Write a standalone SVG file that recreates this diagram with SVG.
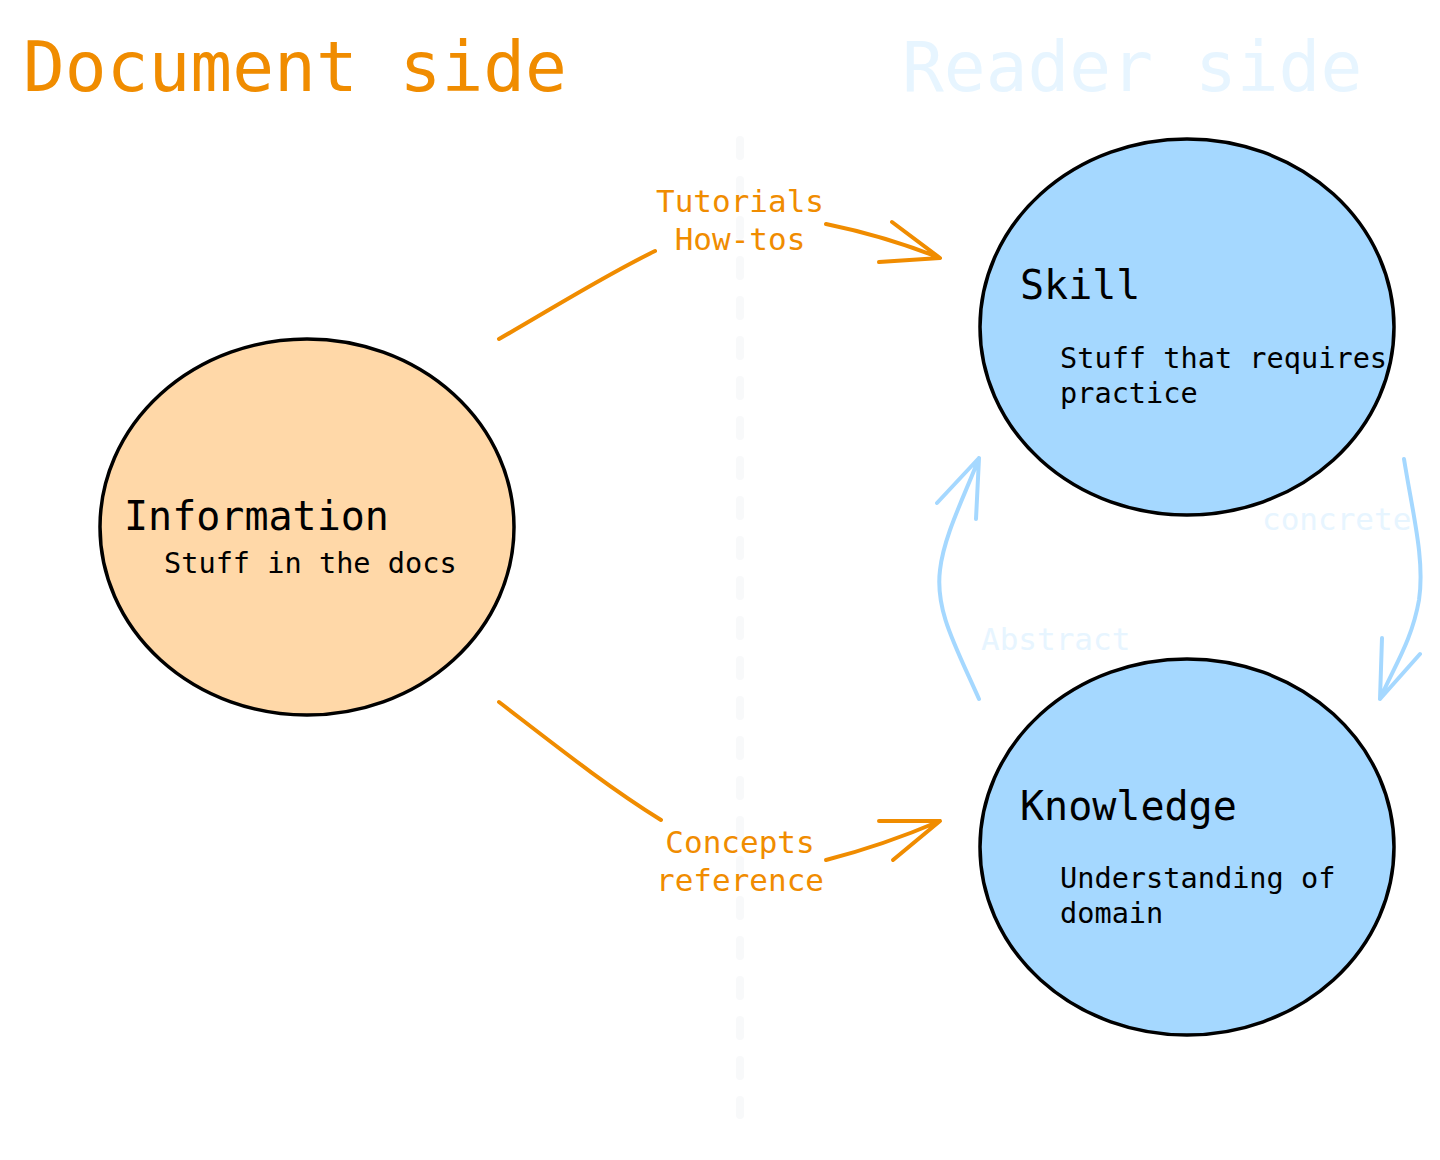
<svg xmlns="http://www.w3.org/2000/svg" width="1440" height="1160" viewBox="0 0 1440 1160">
<style>
text{font-family:"DejaVu Sans Mono","Liberation Mono",monospace}
.title{font-size:69.5px}
.head{font-size:40px;fill:#000}
.body{font-size:28.6px;fill:#000}
.lbl{font-size:31px}
.node{stroke:#000;stroke-width:3.5}
.orange{fill:none;stroke:#f08c00;stroke-width:4;stroke-linecap:round;stroke-linejoin:round}
.blue{fill:none;stroke:#a5d8ff;stroke-width:4;stroke-linecap:round;stroke-linejoin:round}
</style>
<rect width="1440" height="1160" fill="#fff"/>
<text class="title" x="23" y="91" fill="#f08c00">Document side</text>
<text class="title" x="902" y="91" fill="#e7f5ff">Reader side</text>
<path d="M740,140 V1115" stroke="#f8f9fa" stroke-width="8" stroke-linecap="round" stroke-dasharray="16 24" fill="none"/>
<g id="information">
<ellipse class="node" cx="307" cy="527" rx="207" ry="188" fill="#ffd8a8"/>
<text class="head" x="124" y="530">Information</text>
<text class="body" x="164" y="573">Stuff in the docs</text>
</g>
<g id="skill">
<ellipse class="node" cx="1187" cy="327" rx="207" ry="188" fill="#a5d8ff"/>
<text class="head" x="1020" y="299">Skill</text>
<text class="body" x="1060" y="368">Stuff that requires</text>
<text class="body" x="1060" y="403">practice</text>
</g>
<g id="knowledge">
<ellipse class="node" cx="1187" cy="847" rx="207" ry="188" fill="#a5d8ff"/>
<text class="head" x="1020" y="820">Knowledge</text>
<text class="body" x="1060" y="888">Understanding of</text>
<text class="body" x="1060" y="923">domain</text>
</g>
<g id="connectors">
<path class="orange" d="M499,339 C550,310 600,278 655,251"/>
<path class="orange" d="M826,224 C865,232 905,244 940,258 M892,222 L940,258 L879,262"/>
<text class="lbl" x="740" y="212" text-anchor="middle" fill="#f08c00">Tutorials</text>
<text class="lbl" x="740" y="250" text-anchor="middle" fill="#f08c00">How-tos</text>
<path class="orange" d="M499,702 C555,745 605,785 661,820"/>
<path class="orange" d="M826,860 C865,850 905,836 940,821 M879,821 L940,821 L893,860"/>
<text class="lbl" x="740" y="853" text-anchor="middle" fill="#f08c00">Concepts</text>
<text class="lbl" x="740" y="891" text-anchor="middle" fill="#f08c00">reference</text>
<path class="blue" d="M979,699 C955,645 935,610 940,570 C944,535 965,495 979,458 M937,503 L979,458 L976,519"/>
<path class="blue" d="M1404,459 C1413,515 1425,560 1419,600 C1412,640 1395,665 1380,699 M1382,638 L1380,699 L1420,654"/>
<text class="lbl" x="1262" y="530" fill="#e7f5ff">concrete</text>
<text class="lbl" x="981" y="650" fill="#e7f5ff">Abstract</text>
</g>
</svg>
